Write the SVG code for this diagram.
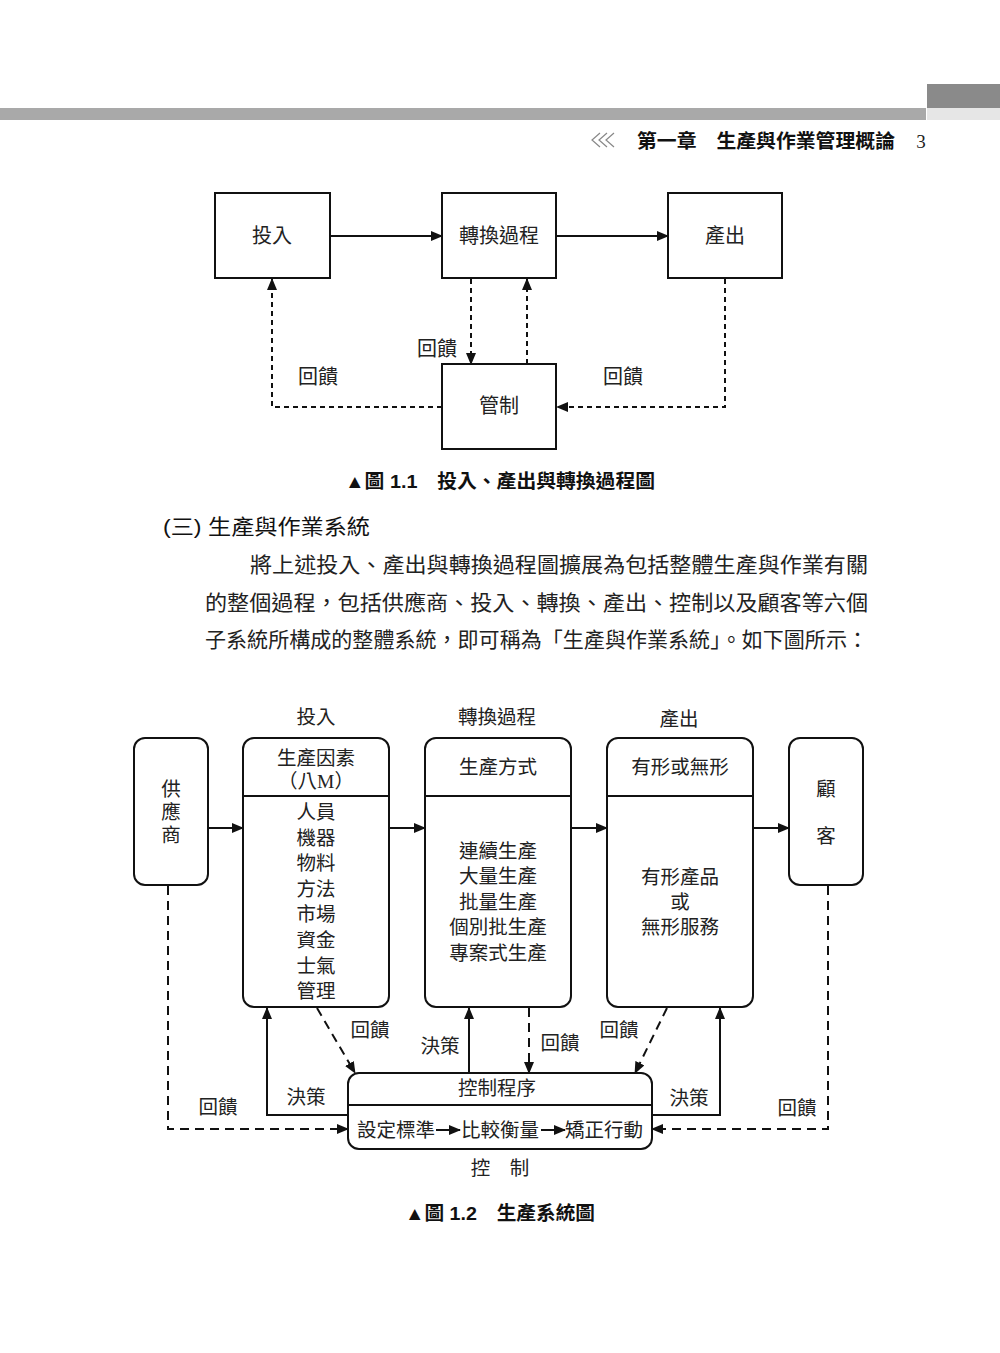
<svg xmlns="http://www.w3.org/2000/svg" width="1000" height="1353" viewBox="0 0 1000 1353">
<style>
.box{fill:#fff;stroke:#111;stroke-width:2}
.ln{fill:none;stroke:#111;stroke-width:2}
.d1{fill:none;stroke:#111;stroke-width:2;stroke-dasharray:5 4}
.d2{fill:none;stroke:#111;stroke-width:2;stroke-dasharray:9 6}
.t{font-family:"Liberation Serif","Noto Sans CJK TC",serif;font-size:19.5px;fill:#222;text-anchor:middle;dominant-baseline:central}
.t1{font-size:20px}
.s{font-family:"Liberation Sans","Noto Sans CJK TC",sans-serif;fill:#111}
.p{font-family:"Liberation Serif","Noto Sans CJK TC",serif;font-size:21px;fill:#222}
</style>
<defs>
<marker id="ah" markerUnits="userSpaceOnUse" markerWidth="12" markerHeight="10" refX="11" refY="5" orient="auto"><path d="M0,0 L12,5 L0,10 Z" fill="#111"/></marker>
</defs>
<rect width="1000" height="1353" fill="#fff"/>
<!-- header -->
<g id="header">
<rect x="0" y="108" width="926" height="12" fill="#a9a9a9"/>
<rect x="927" y="84" width="73" height="24" fill="#8a8a8a"/>
<rect x="927" y="108" width="73" height="12" fill="#e6e6e6"/>
<g fill="none" stroke="#888" stroke-width="1.2">
<polyline points="600,133 592,140 600,147"/><polyline points="607,133 599,140 607,147"/><polyline points="614,133 606,140 614,147"/>
</g>
<text class="s" x="637" y="148" font-size="19" font-weight="bold" textLength="258" lengthAdjust="spacingAndGlyphs">第一章　生產與作業管理概論</text>
<text x="921" y="148" font-family="Liberation Serif,serif" font-size="19" fill="#222" text-anchor="middle">3</text>
</g>
<!-- Figure 1.1 -->
<g id="f1-connectors">
<line class="ln" x1="330" y1="236" x2="442" y2="236" marker-end="url(#ah)"/>
<line class="ln" x1="556" y1="236" x2="668" y2="236" marker-end="url(#ah)"/>
<line class="d1" x1="471" y1="279" x2="471" y2="364" marker-end="url(#ah)"/>
<line class="d1" x1="527" y1="364" x2="527" y2="279" marker-end="url(#ah)"/>
<polyline class="d1" points="442,407 272,407 272,279" marker-end="url(#ah)"/>
<polyline class="d1" points="725,279 725,407 557,407" marker-end="url(#ah)"/>
<text class="t t1" x="437" y="349">回饋</text>
<text class="t t1" x="318" y="377">回饋</text>
<text class="t t1" x="623" y="377">回饋</text>
</g>
<g id="f1-input"><rect class="box" x="215" y="193" width="115" height="85"/><text class="t t1" x="272" y="236">投入</text></g>
<g id="f1-transform"><rect class="box" x="442" y="193" width="114" height="85"/><text class="t t1" x="499" y="236">轉換過程</text></g>
<g id="f1-output"><rect class="box" x="668" y="193" width="114" height="85"/><text class="t t1" x="725" y="236">產出</text></g>
<g id="f1-control"><rect class="box" x="442" y="364" width="114" height="85"/><text class="t t1" x="499" y="406">管制</text></g>
<text class="s" x="500" y="488" font-size="19" font-weight="bold" text-anchor="middle" textLength="310" lengthAdjust="spacingAndGlyphs">▲圖 1.1　投入、產出與轉換過程圖</text>
<!-- text -->
<text class="s" x="163" y="534" font-size="21" textLength="207" lengthAdjust="spacingAndGlyphs">(三) 生產與作業系統</text>
<text class="p" x="250" y="572" textLength="618" lengthAdjust="spacingAndGlyphs">將上述投入、產出與轉換過程圖擴展為包括整體生產與作業有關</text>
<text class="p" x="205" y="610" textLength="663" lengthAdjust="spacingAndGlyphs">的整個過程，包括供應商、投入、轉換、產出、控制以及顧客等六個</text>
<text class="p" x="205" y="647" textLength="663" lengthAdjust="spacingAndGlyphs">子系統所構成的整體系統，即可稱為「生產與作業系統」。如下圖所示：</text>
<!-- Figure 1.2 -->
<text class="t" x="316" y="717">投入</text>
<text class="t" x="497" y="717">轉換過程</text>
<text class="t" x="679" y="719">產出</text>
<g id="f2-connectors">
<line class="ln" x1="208" y1="828" x2="243" y2="828" marker-end="url(#ah)"/>
<line class="ln" x1="389" y1="828" x2="425" y2="828" marker-end="url(#ah)"/>
<line class="ln" x1="571" y1="828" x2="607" y2="828" marker-end="url(#ah)"/>
<line class="ln" x1="753" y1="828" x2="789" y2="828" marker-end="url(#ah)"/>
<line class="d2" x1="317" y1="1008" x2="355" y2="1073" marker-end="url(#ah)"/>
<polyline class="ln" points="348,1115 267,1115 267,1008" marker-end="url(#ah)"/>
<line class="ln" x1="469" y1="1073" x2="469" y2="1008" marker-end="url(#ah)"/>
<line class="d2" x1="529" y1="1008" x2="529" y2="1073" marker-end="url(#ah)"/>
<line class="d2" x1="667" y1="1008" x2="635" y2="1073" marker-end="url(#ah)"/>
<polyline class="ln" points="652,1115 720,1115 720,1008" marker-end="url(#ah)"/>
<polyline class="d2" points="168,886 168,1129 348,1129" marker-end="url(#ah)"/>
<polyline class="d2" points="828,886 828,1129 652,1129" marker-end="url(#ah)"/>
<text class="t" x="370" y="1030">回饋</text>
<text class="t" x="306" y="1097">決策</text>
<text class="t" x="440" y="1046">決策</text>
<text class="t" x="560" y="1043">回饋</text>
<text class="t" x="619" y="1030">回饋</text>
<text class="t" x="689" y="1098">決策</text>
<text class="t" x="218" y="1107">回饋</text>
<text class="t" x="797" y="1108">回饋</text>
</g>
<g id="f2-supplier"><rect class="box" x="134" y="738" width="74" height="147" rx="11"/>
<text class="t" x="171" y="789">供</text><text class="t" x="171" y="812">應</text><text class="t" x="171" y="835">商</text></g>
<g id="f2-input"><rect class="box" x="243" y="738" width="146" height="269" rx="11"/><line class="ln" x1="243" y1="796" x2="389" y2="796"/>
<text class="t" x="316" y="758">生產因素</text><text class="t" x="316" y="781">（八M）</text>
<text class="t" x="316" y="812">人員</text><text class="t" x="316" y="838">機器</text><text class="t" x="316" y="863">物料</text><text class="t" x="316" y="889">方法</text>
<text class="t" x="316" y="914">市場</text><text class="t" x="316" y="940">資金</text><text class="t" x="316" y="966">士氣</text><text class="t" x="316" y="991">管理</text></g>
<g id="f2-transform"><rect class="box" x="425" y="738" width="146" height="269" rx="11"/><line class="ln" x1="425" y1="796" x2="571" y2="796"/>
<text class="t" x="498" y="767">生產方式</text>
<text class="t" x="498" y="851">連續生產</text><text class="t" x="498" y="876">大量生產</text><text class="t" x="498" y="902">批量生產</text><text class="t" x="498" y="927">個別批生產</text><text class="t" x="498" y="953">專案式生產</text></g>
<g id="f2-output"><rect class="box" x="607" y="738" width="146" height="269" rx="11"/><line class="ln" x1="607" y1="796" x2="753" y2="796"/>
<text class="t" x="680" y="767">有形或無形</text>
<text class="t" x="680" y="877">有形產品</text><text class="t" x="680" y="902">或</text><text class="t" x="680" y="927">無形服務</text></g>
<g id="f2-customer"><rect class="box" x="789" y="738" width="74" height="147" rx="11"/>
<text class="t" x="826" y="789">顧</text><text class="t" x="826" y="836">客</text></g>
<g id="f2-control"><rect class="box" x="348" y="1073" width="304" height="76" rx="11"/><line class="ln" x1="348" y1="1105" x2="652" y2="1105"/>
<text class="t" x="497" y="1088">控制程序</text>
<text class="t" x="396" y="1130">設定標準</text>
<line class="ln" x1="436" y1="1130" x2="460" y2="1130" marker-end="url(#ah)"/>
<text class="t" x="500" y="1130">比較衡量</text>
<line class="ln" x1="541" y1="1130" x2="565" y2="1130" marker-end="url(#ah)"/>
<text class="t" x="604" y="1130">矯正行動</text>
</g>
<text class="t" x="500" y="1168">控　制</text>
<text class="s" x="500" y="1220" font-size="19" font-weight="bold" text-anchor="middle" textLength="190" lengthAdjust="spacingAndGlyphs">▲圖 1.2　生產系統圖</text>
</svg>
